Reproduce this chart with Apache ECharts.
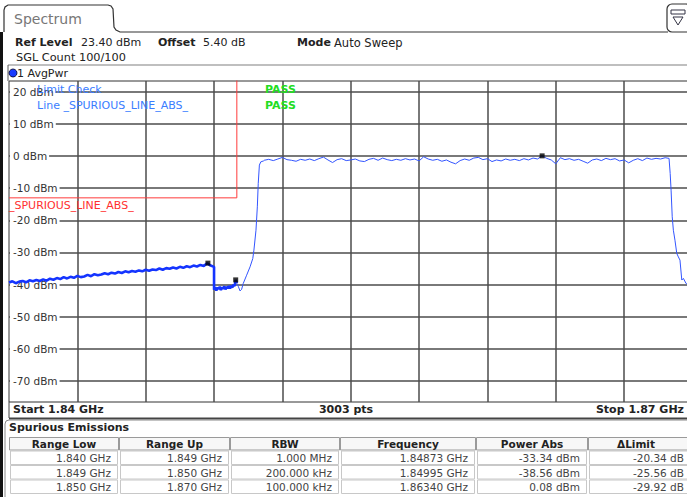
<!DOCTYPE html>
<html><head><meta charset="utf-8">
<script src="https://cdn.jsdelivr.net/npm/echarts@6/dist/echarts.min.js"></script>
<style>html,body{margin:0;padding:0;background:#fff;overflow:hidden;width:687px;height:497px}#c{width:693px;height:497px}</style>
</head><body><div id="c"></div>
<script>
const FONT = '"DejaVu Sans", Verdana, sans-serif';

// ---- axes ----
const freqStartGHz = 1.84, freqStopGHz = 1.87;
const refLevel = 23.4, bottomLevel = -76.6;
const yTickValues = [-70, -60, -50, -40, -30, -20, -10, 0, 10, 20];
const xGridValues = [1.843, 1.846, 1.849, 1.852, 1.855, 1.858, 1.861, 1.864, 1.867];

// ---- trace ----
const seg1Start = 1.840, seg1Step = 0.00015;
const seg1Pwr = [
  -39.4, -39.0, -39.6, -39.1, -38.9, -39.3, -38.7, -39.0, -38.6, -38.9,
  -38.4, -38.8, -38.2, -38.5, -38.0, -38.3, -37.7, -38.1, -37.6, -37.9,
  -37.3, -37.7, -37.5, -37.0, -37.4, -36.8, -37.1, -36.9, -36.5, -36.8,
  -36.3, -36.6, -36.1, -36.4, -35.9, -36.2, -35.8, -36.0, -35.6, -35.9,
  -35.4, -35.7, -35.3, -35.5, -35.0, -35.4, -34.9, -35.1, -34.7, -35.0,
  -34.5, -34.8, -34.3, -34.6, -34.1, -34.4, -33.9, -34.2, -33.4, -34.1, -34.5
];
const seg2Start = 1.849, seg2Step = 0.00005;
const seg2Pwr = [
  -41.6, -40.8, -41.9, -41.0, -41.4, -40.7, -41.7, -40.9, -41.3, -40.6,
  -41.5, -40.8, -41.1, -40.5, -41.2, -40.4, -40.9, -40.1, -40.5, -38.56, -39.6
];
const riseFreq = [1.85007, 1.85014, 1.85021, 1.85028, 1.85043, 1.85058, 1.85070, 1.85075, 1.85084, 1.85090, 1.85094, 1.85099, 1.85105, 1.85117];
const risePwr  = [-40.7, -42.0, -41.5, -39.7, -37.1, -34.5, -31.9, -29.3, -23.1, -15.8, -8.5, -2.8, -1.8, -1.5];
const flatStart = 1.8512, flatStep = 0.0002;
const flatPwr = [
  -1.3, -1.0, -1.4, -0.9, -0.4, -1.1, -1.3, -1.6, -1.0, -1.3,
  -0.9, -1.4, -0.8, -0.3, -1.2, -2.0, -1.1, -0.8, -1.4, -1.2,
  -0.9, -1.5, -1.7, -1.0, -0.7, -1.3, -0.6, -1.1, -1.4, -1.0,
  -1.3, -0.8, -1.2, -0.9, -1.5, -0.2, -0.9, -1.3, -1.0, -1.6,
  -1.2, -1.9, -2.4, -1.4, -0.9, -1.3, -0.6, -0.4, -1.1, -0.8,
  -1.7, -1.2, -1.5, -0.9, -1.3, -1.0, -1.4, -0.8, -1.2, -0.6,
  -0.9, 0.08, -0.7, -1.2, -2.4, -0.5, -1.1, -0.8, -1.3, -1.0,
  -1.6, -2.2, -1.2, -0.9, -1.4, -0.7, -1.1, -0.8, -1.5, -1.2,
  -2.1, -1.3, -0.8, -1.4, -0.6, -1.0, -0.7, -0.9, -0.5
];
const fallFreq = [1.86897, 1.86902, 1.86906, 1.86911, 1.86916, 1.86923, 1.86931, 1.86938, 1.86945, 1.86953, 1.86960, 1.86972, 1.86985, 1.87000];
const fallPwr  = [-0.7, -5.4, -10.6, -18.9, -23.1, -26.2, -30.3, -31.4, -32.4, -38.6, -38.1, -39.7, -40.2, -40.5];

// ---- limit line & markers ----
const limitFreq  = [1.840, 1.850, 1.850];
const limitLevel = [-13, -13, 30];
const markerFreq = [1.84873, 1.84995, 1.86340];
const markerPwr  = [-33.34, -38.56, 0.08];

// ---- result table ----
const tableHeaders = ['Range Low', 'Range Up', 'RBW', 'Frequency', 'Power Abs', '\u0394Limit'];
const rangeLow  = ['1.840 GHz', '1.849 GHz', '1.850 GHz'];
const rangeUp   = ['1.849 GHz', '1.850 GHz', '1.870 GHz'];
const rbw       = ['1.000 MHz', '200.000 kHz', '100.000 kHz'];
const peakFreq  = ['1.84873 GHz', '1.84995 GHz', '1.86340 GHz'];
const powerAbs  = ['-33.34 dBm', '-38.56 dBm', '0.08 dBm'];
const deltaLimit = ['-20.34 dB', '-25.56 dB', '-29.92 dB'];

// ---- build series data ----
const r6 = v => Math.round(v * 1e6) / 1e6;
const thickData = seg1Pwr.map((p, i) => [r6(seg1Start + seg1Step * i), p])
  .concat(seg2Pwr.map((p, i) => [r6(seg2Start + seg2Step * i), p]));
const thinData = [thickData[thickData.length - 1]]
  .concat(riseFreq.map((f, i) => [f, risePwr[i]]))
  .concat(flatPwr.map((p, i) => [r6(flatStart + flatStep * i), p]))
  .concat(fallFreq.map((f, i) => [f, fallPwr[i]]));
const limitData = limitFreq.map((f, i) => [f, limitLevel[i]]);
const markerData = markerFreq.map((f, i) => [f, markerPwr[i]]);

// ---- decoration ----
const G = [];
const txt = (x, y, text, o = {}) => G.push({
  type: 'text', x, y, z: o.z || 50,
  style: { text, font: (o.bold ? 'bold ' : '') + (o.size || 11) + 'px ' + FONT,
    fill: o.color || '#222', align: o.align || 'left', verticalAlign: 'middle' }
});
const ln = (x1, y1, x2, y2, stroke, w = 1, z = 40) => G.push({
  type: 'line', z, shape: { x1, y1, x2, y2 }, style: { stroke, lineWidth: w }
});

// tab & window frame
G.push({ type: 'polyline', z: 40, shape: { points: [[4, 32], [4, 10], [5, 7], [8, 5], [108, 5], [111, 6], [113, 9], [114, 27], [116, 30], [120, 32], [668, 32]] },
  style: { stroke: '#333', lineWidth: 1.2, fill: null } });
G.push({ type: 'rect', z: 40, shape: { x: 0, y: 32, width: 3, height: 465 }, style: { fill: '#111' } });
G.push({ type: 'rect', z: 40, shape: { x: 667, y: 4, width: 24, height: 28, r: 5 }, style: { fill: '#fff', stroke: '#333', lineWidth: 1.2 } });
G.push({ type: 'rect', z: 41, shape: { x: 671, y: 10, width: 14, height: 4 }, style: { fill: '#fff', stroke: '#334', lineWidth: 1 } });
G.push({ type: 'polygon', z: 41, shape: { points: [[673, 17], [683, 17], [678, 25]] }, style: { fill: '#fff', stroke: '#334', lineWidth: 1 } });
txt(14, 19, 'Spectrum', { size: 14, color: '#777' });

// header info
txt(15, 42.5, 'Ref Level', { bold: true });
txt(81, 42.5, '23.40 dBm');
txt(158, 42.5, 'Offset', { bold: true });
txt(203, 42.5, '5.40 dB');
txt(297, 42.5, 'Mode', { bold: true });
txt(334, 42.5, 'Auto Sweep', { size: 11.5 });
txt(16, 57.5, 'SGL Count 100/100', { size: 11.3 });
ln(8, 65, 693, 65, '#aaa', 1.5);
ln(8, 65, 8, 81, '#555', 1);
G.push({ type: 'circle', z: 41, shape: { cx: 13, cy: 73, r: 4 }, style: { fill: '#1a3cff', stroke: '#002', lineWidth: 0.8 } });
txt(17, 73, '1 AvgPwr');

// in-plot texts
txt(37, 89, 'Limit Check', { color: '#3a7dff', z: 60 });
txt(37, 105, 'Line _SPURIOUS_LINE_ABS_', { color: '#3a7dff', z: 60 });
txt(265, 89, 'PASS', { color: '#22dd22', bold: true, z: 60 });
txt(265, 105, 'PASS', { color: '#22dd22', bold: true, z: 60 });
txt(9, 205, '_SPURIOUS_LINE_ABS_', { color: '#ff3030', z: 60 });

// status row
ln(9, 402, 9, 418, '#444', 1);
txt(13, 409.5, 'Start 1.84 GHz', { bold: true });
txt(346, 409.5, '3003 pts', { bold: true, align: 'center' });
txt(684, 409.5, 'Stop 1.87 GHz', { bold: true, align: 'right' });
ln(9, 418.5, 693, 418.5, '#444', 2);

// table
G.push({ type: 'polyline', z: 40, shape: { points: [[5, 497], [5, 424], [6, 421], [9, 420], [693, 420]] }, style: { stroke: '#888', lineWidth: 1, fill: null } });
txt(9, 427.5, 'Spurious Emissions', { bold: true });
const colEdges = [9, 119, 230, 340, 476, 588, 693];
const headTop = 437.5, headH = 12.5, rowTops = [451, 465.5, 480], rowH = 13.5;
const tableCols = [rangeLow, rangeUp, rbw, peakFreq, powerAbs, deltaLimit];
tableHeaders.forEach((h, c) => {
  const x0 = colEdges[c], x1 = colEdges[c + 1];
  const cx = c === 5 ? 636 : (x0 + x1) / 2;
  const tr = c === 5 ? 684 : x1 - 8;
  G.push({ type: 'rect', z: 40, shape: { x: x0 + 0.5, y: headTop, width: x1 - x0 - 1, height: headH }, style: { fill: '#f7f7f7', stroke: '#9a9a9a', lineWidth: 1 } });
  txt(cx, headTop + headH / 2 + 0.5, h, { bold: true, size: 10.5, align: 'center', z: 45 });
  tableCols[c].forEach((v, r) => {
    G.push({ type: 'rect', z: 40, shape: { x: x0 + 1.5, y: rowTops[r], width: x1 - x0 - 3, height: rowH }, style: { fill: '#fff', stroke: '#c8c8c8', lineWidth: 1 } });
    txt(tr, rowTops[r] + rowH / 2 + 0.5, v, { size: 10.5, align: 'right', color: '#444', z: 45 });
  });
});

const chart = echarts.init(document.getElementById('c'), null, { renderer: 'svg' });
chart.setOption({
  animation: false,
  backgroundColor: '#fff',
  grid: { left: 9, top: 81, width: 683.5, height: 321, show: true, borderColor: '#333', borderWidth: 1, backgroundColor: 'transparent' },
  xAxis: {
    type: 'value', min: freqStartGHz, max: freqStopGHz,
    axisLine: { show: false }, axisLabel: { show: false },
    axisTick: { show: false, customValues: xGridValues },
    splitLine: { show: true, lineStyle: { color: '#4c4c4c', width: 1.5 } }
  },
  yAxis: {
    type: 'value', min: bottomLevel, max: refLevel, z: 3,
    axisLine: { show: false },
    axisTick: { show: false, customValues: yTickValues },
    splitLine: { show: true, lineStyle: { color: '#4c4c4c', width: 1.5 } },
    axisLabel: {
      show: true, inside: true, customValues: yTickValues, margin: 1,
      formatter: v => v + ' dBm', color: '#333', fontSize: 10.5, fontFamily: FONT,
      backgroundColor: '#fff', padding: [1, 2, 1, 3]
    }
  },
  graphic: { elements: G },
  series: [
    { type: 'line', data: limitData, showSymbol: false, z: 4, lineStyle: { color: '#ff3b3b', width: 1 }, silent: true },
    { type: 'line', data: thickData, showSymbol: false, z: 5, lineStyle: { color: '#1434ff', width: 2.6 }, silent: true },
    { type: 'line', data: thinData, showSymbol: false, z: 5, lineStyle: { color: '#3355ff', width: 1 }, silent: true },
    { type: 'scatter', data: markerData, symbol: 'rect', symbolSize: 5, z: 6, itemStyle: { color: '#000' }, silent: true }
  ]
});
</script></body></html>
